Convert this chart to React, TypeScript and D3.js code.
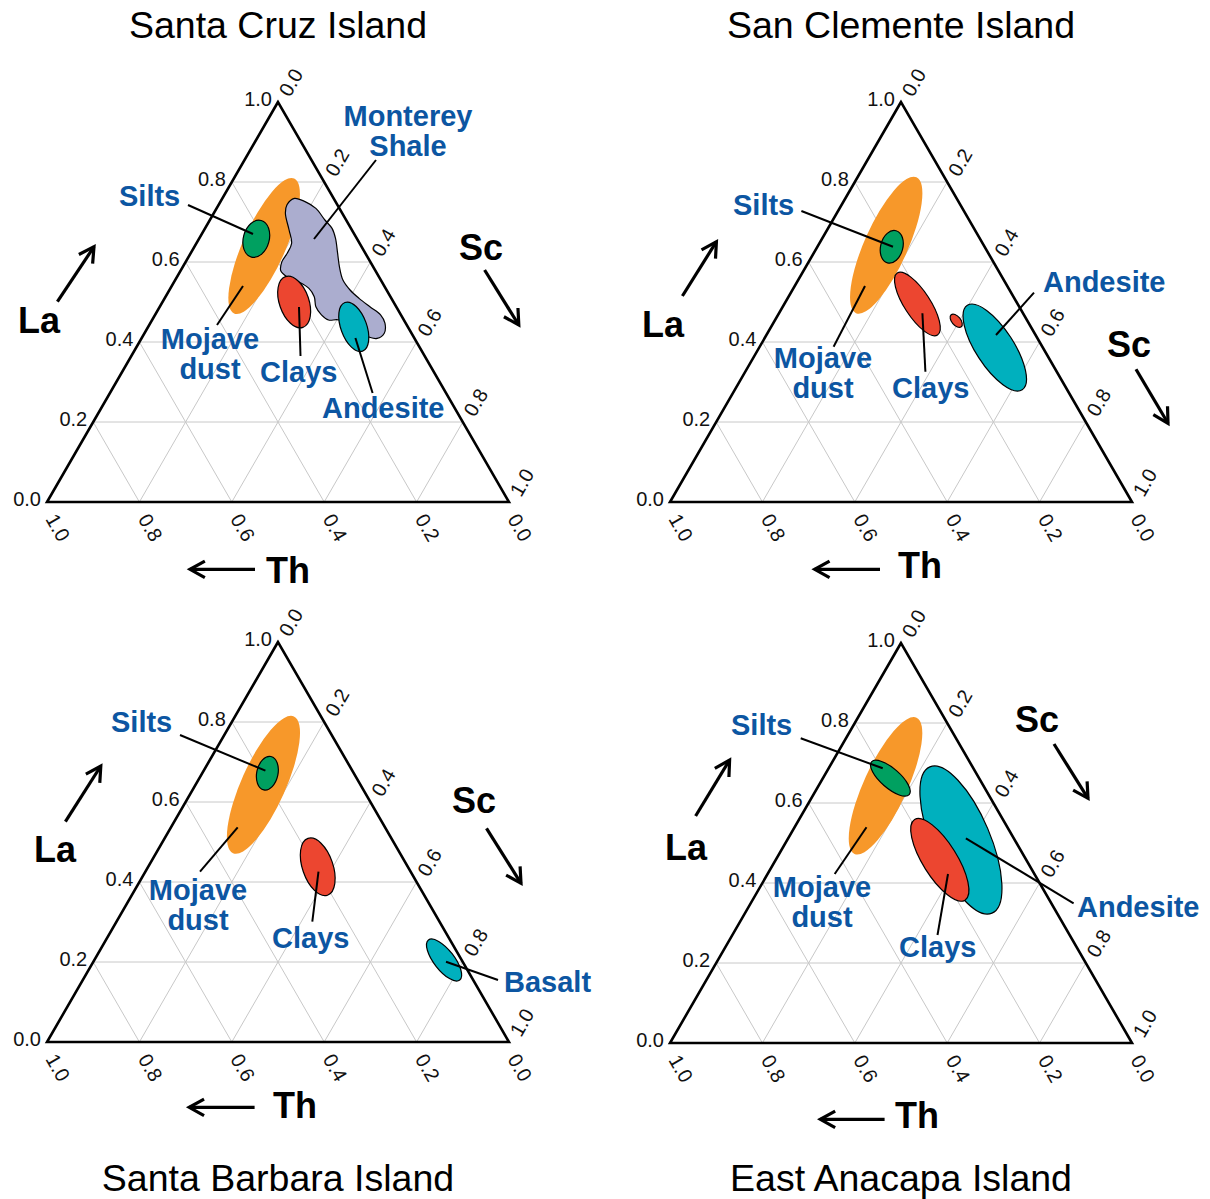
import { useEffect, useRef } from "react";
import * as d3 from "d3";

const panelTitles = ["Santa Cruz Island", "San Clemente Island", "Santa Barbara Island", "East Anacapa Island"];
const tickValues = [0, 0.2, 0.4, 0.6, 0.8, 1.0];
const gridValues = [0.2, 0.4, 0.6, 0.8];

// field: [name, La, Sc, semi-major, semi-minor (fraction of side), tilt deg]
const santaCruzFields = [
  ["Mojave dust", 0.640, 0.150, 0.160, 0.046, -66],
  ["Silts", 0.658, 0.124, 0.041, 0.028, -75],
  ["Clays", 0.500, 0.285, 0.058, 0.032, 71],
  ["Andesite", 0.438, 0.445, 0.056, 0.028, 70],
];
const sanClementeFields = [
  ["Mojave dust", 0.642, 0.147, 0.161, 0.047, -66],
  ["Silts", 0.638, 0.161, 0.036, 0.024, -75],
  ["Clays", 0.495, 0.288, 0.080, 0.028, 57],
  ["Clays", 0.453, 0.393, 0.017, 0.0095, 50],
  ["Andesite", 0.386, 0.510, 0.109, 0.041, 57],
];
const santaBarbaraFields = [
  ["Mojave dust", 0.643, 0.147, 0.162, 0.048, -66],
  ["Silts", 0.672, 0.141, 0.037, 0.023, -78],
  ["Clays", 0.438, 0.367, 0.065, 0.033, 71],
  ["Basalt", 0.205, 0.757, 0.055, 0.022, 52],
];
const eastAnacapaFields = [
  ["Mojave dust", 0.643, 0.145, 0.162, 0.047, -65.5],
  ["Silts", 0.662, 0.146, 0.054, 0.021, 41],
  ["Andesite", 0.5075, 0.376, 0.172, 0.063, 67],
  ["Clays", 0.458, 0.355, 0.103, 0.037, 58],
];

// Monterey Shale outline [La, Sc]
const montereyShale = [
  [0.759, 0.156], [0.751, 0.183], [0.734, 0.215], [0.705, 0.249], [0.684, 0.275],
  [0.659, 0.295], [0.622, 0.318], [0.588, 0.339], [0.555, 0.363], [0.530, 0.391],
  [0.509, 0.421], [0.488, 0.455], [0.468, 0.488], [0.447, 0.508], [0.422, 0.519],
  [0.409, 0.510], [0.413, 0.488], [0.455, 0.405], [0.455, 0.382], [0.468, 0.360],
  [0.488, 0.338], [0.513, 0.322], [0.534, 0.300], [0.551, 0.268], [0.563, 0.238],
  [0.578, 0.217], [0.601, 0.208], [0.622, 0.209], [0.647, 0.206], [0.680, 0.184],
  [0.722, 0.155], [0.743, 0.148],
];

const fieldColors = {
  "Mojave dust": "#f7982a",
  Silts: "#00a060",
  Clays: "#ec4630",
  Andesite: "#00b0be",
  Basalt: "#00b0be",
  "Monterey Shale": "#abadcf",
};

const blue = "#0c56a2";
const font = "'Liberation Sans', Arial, sans-serif";
const side = 462;
const triH = 400;

// labels: [lines, x, first baseline, anchor]
const panels = [
  {
    title: panelTitles[0], fields: santaCruzFields, shale: montereyShale,
    origin: [47, 502], titleY: 38,
    labels: [
      [["Monterey", "Shale"], 408, 126, "middle"],
      [["Silts"], 119, 206, "start"], [["Mojave", "dust"], 210, 349, "middle"],
      [["Clays"], 260, 382, "start"], [["Andesite"], 322, 418, "start"],
    ],
    leaders: [
      [376, 160, 314, 239], [188, 205, 253, 234], [217, 325, 243, 286],
      [300.5, 356, 299, 307], [372.6, 393, 355.4, 338],
    ],
    axis: { la: [18, 333], sc: [459, 260], th: [266, 583] },
    arrows: [[57.4, 301.7, 94, 246.7], [484.6, 270, 518.8, 325], [255, 569.3, 190, 569.3]],
  },
  {
    title: panelTitles[1], fields: sanClementeFields, shale: null,
    origin: [670, 502], titleY: 38,
    labels: [
      [["Silts"], 733, 215, "start"], [["Mojave", "dust"], 823, 368, "middle"],
      [["Clays"], 892, 398, "start"], [["Andesite"], 1043, 292, "start"],
    ],
    leaders: [
      [801.4, 211, 893, 246.7], [833.6, 346.7, 865, 286], [925.4, 371.7, 922.4, 313.3],
      [1034, 292.7, 996, 335],
    ],
    axis: { la: [642, 337], sc: [1107, 357], th: [898, 578] },
    arrows: [[682.4, 296, 716.4, 241.7], [1136, 369.3, 1168, 423.3], [880, 569.3, 814.7, 569.3]],
  },
  {
    title: panelTitles[2], fields: santaBarbaraFields, shale: null,
    origin: [47, 1042], titleY: 1191,
    labels: [
      [["Silts"], 111, 732, "start"], [["Mojave", "dust"], 198, 900, "middle"],
      [["Clays"], 272, 948, "start"], [["Basalt"], 504, 992, "start"],
    ],
    leaders: [
      [180, 735, 265.4, 770.7], [200, 871.7, 237.7, 827.3], [312.3, 921.7, 318.5, 871.7],
      [498, 980, 446, 961.7],
    ],
    axis: { la: [34, 862], sc: [452, 813], th: [273, 1118] },
    arrows: [[65.4, 821.7, 100.8, 766], [486.5, 828.3, 521, 883.3], [254.6, 1107.3, 189.2, 1107.3]],
  },
  {
    title: panelTitles[3], fields: eastAnacapaFields, shale: null,
    origin: [670, 1043], titleY: 1191,
    labels: [
      [["Silts"], 731, 735, "start"], [["Mojave", "dust"], 822, 897, "middle"],
      [["Clays"], 899, 957, "start"], [["Andesite"], 1077, 917, "start"],
    ],
    leaders: [
      [800.7, 738.3, 882.7, 768.3], [834.7, 874, 866.5, 827.3], [937.5, 935, 948, 874],
      [1073.6, 903.3, 965.9, 838.3],
    ],
    axis: { la: [665, 860], sc: [1015, 732], th: [895, 1128] },
    arrows: [[695.6, 816, 729.6, 760], [1054, 744, 1088, 798.3], [884.6, 1119.3, 820.3, 1119.3]],
  },
];

function drawArrow(g, a) {
  const [x0, y0, x1, y1] = a;
  const ang = Math.atan2(y1 - y0, x1 - x0);
  const len = 17, spread = Math.PI / 6.2;
  g.append("line").attr("x1", x0).attr("y1", y0).attr("x2", x1).attr("y2", y1)
    .attr("stroke", "#000").attr("stroke-width", 3.2);
  const p1 = [x1 - len * Math.cos(ang - spread), y1 - len * Math.sin(ang - spread)];
  const p2 = [x1 - len * Math.cos(ang + spread), y1 - len * Math.sin(ang + spread)];
  g.append("path")
    .attr("d", `M${p1[0]},${p1[1]} L${x1},${y1} L${p2[0]},${p2[1]}`)
    .attr("fill", "none").attr("stroke", "#000").attr("stroke-width", 3.2)
    .attr("stroke-linejoin", "miter");
}

function drawPanel(svg, p) {
  const [ox, oy] = p.origin;
  const x = d3.scaleLinear().domain([0, 1]).range([ox, ox + side]);
  const y = d3.scaleLinear().domain([0, 1]).range([oy, oy - triH]);
  const proj = (la, sc) => [x(sc + la / 2), y(la)];
  const g = svg.append("g");

  // grid
  const grid = g.append("g").attr("stroke", "#c8c8c8").attr("stroke-width", 1);
  gridValues.forEach((v) => {
    const segs = [
      [proj(v, 0), proj(v, 1 - v)],
      [proj(0, v), proj(1 - v, v)],
      [proj(0, 1 - v), proj(1 - v, 0)],
    ];
    segs.forEach(([a, b]) => {
      grid.append("line").attr("x1", a[0]).attr("y1", a[1]).attr("x2", b[0]).attr("y2", b[1]);
    });
  });

  // fields
  const fg = g.append("g");
  const drawField = (f) => {
    const [name, la, sc, a, b, tilt] = f;
    const [cx, cy] = proj(la, sc);
    fg.append("ellipse")
      .attr("cx", 0).attr("cy", 0)
      .attr("rx", x(a) - x(0)).attr("ry", x(b) - x(0))
      .attr("transform", `translate(${cx},${cy}) rotate(${tilt})`)
      .attr("fill", fieldColors[name])
      .attr("stroke", name === "Mojave dust" ? "none" : "#000")
      .attr("stroke-width", 1.2);
  };
  drawField(p.fields[0]);
  if (p.shale) {
    const line = d3.line().curve(d3.curveCatmullRomClosed.alpha(0.5));
    fg.append("path")
      .attr("d", line(p.shale.map(([la, sc]) => proj(la, sc))))
      .attr("fill", fieldColors["Monterey Shale"])
      .attr("stroke", "#000").attr("stroke-width", 1.2);
  }
  p.fields.slice(1).forEach(drawField);

  // triangle frame
  const corners = [proj(1, 0), proj(0, 0), proj(0, 1)];
  g.append("path")
    .attr("d", d3.line()(corners) + "Z")
    .attr("fill", "none").attr("stroke", "#000").attr("stroke-width", 2.6)
    .attr("stroke-linejoin", "miter");

  // ticks
  const tg = g.append("g").attr("font-family", font).attr("font-size", 20).attr("fill", "#111");
  tickValues.forEach((t) => {
    const lbl = t.toFixed(1);
    const pl = proj(t, 0);
    tg.append("text").attr("x", pl[0] - 6).attr("y", pl[1] + 4).attr("text-anchor", "end").text(lbl);
    const pr = proj(1 - t, t);
    tg.append("text").attr("transform", `translate(${pr[0] + 12},${pr[1] - 4}) rotate(-60)`).text(lbl);
    const pb = proj(0, 1 - t);
    tg.append("text").attr("transform", `translate(${pb[0] - 2},${pb[1] + 17}) rotate(60)`).text(lbl);
  });

  // leaders
  p.leaders.forEach(([x1, y1, x2, y2]) => {
    g.append("line").attr("x1", x1).attr("y1", y1).attr("x2", x2).attr("y2", y2)
      .attr("stroke", "#000").attr("stroke-width", 2);
  });

  // field labels
  p.labels.forEach(([lines, lx, ly, anchor]) => {
    const t = g.append("text").attr("x", lx).attr("y", ly).attr("text-anchor", anchor)
      .attr("font-family", font).attr("font-weight", "bold")
      .attr("font-size", 29).attr("fill", blue);
    lines.forEach((ln, i) => {
      t.append("tspan").attr("x", lx).attr("dy", i === 0 ? 0 : 29.5).text(ln);
    });
  });

  // axis names + arrows
  [["La", p.axis.la], ["Sc", p.axis.sc], ["Th", p.axis.th]].forEach(([txt, pos]) => {
    g.append("text").attr("x", pos[0]).attr("y", pos[1])
      .attr("font-family", font).attr("font-weight", "bold")
      .attr("font-size", 36).attr("fill", "#000").text(txt);
  });
  p.arrows.forEach((a) => drawArrow(g, a));

  // title
  g.append("text").attr("x", ox + side / 2).attr("y", p.titleY).attr("text-anchor", "middle")
    .attr("font-family", font).attr("font-size", 37.5)
    .attr("fill", "#000").text(p.title);
}

export default function App() {
  const svgRef = useRef(null);

  useEffect(() => {
    if (!svgRef.current) return;
    const svg = d3.select(svgRef.current);
    svg.selectAll("*").remove();
    svg.append("rect").attr("width", 1210).attr("height", 1199).attr("fill", "#fff");
    panels.forEach((p) => drawPanel(svg, p));
  }, []);

  return (
    <svg ref={svgRef} width={1210} height={1199}
      style={{ position: "absolute", left: 0, top: 0, display: "block" }} />
  );
}
